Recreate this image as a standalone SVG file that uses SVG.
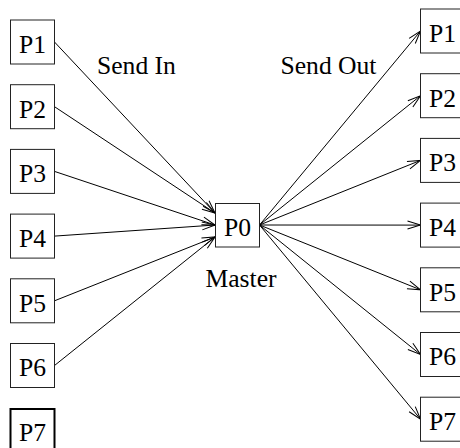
<svg xmlns="http://www.w3.org/2000/svg" width="460" height="448" viewBox="0 0 460 448">
  <defs>
    <marker id="arrow" markerUnits="userSpaceOnUse" markerWidth="20" markerHeight="12" refX="14" refY="5" orient="auto" overflow="visible">
      <path d="M1,1 L14,5 L1,9" fill="none" stroke="#000" stroke-width="1"/>
    </marker>
  </defs>
  <style>
    rect { fill: #fff; stroke: #222; stroke-width: 1; }
    rect.heavy { stroke: #000; stroke-width: 2; }
    text { font-family: "Liberation Serif", "Times New Roman", serif; font-size: 25.6px; fill: #000; }
    .lbl { text-anchor: middle; }
    #links line { stroke: #000; stroke-width: 1; marker-end: url(#arrow); }
  </style>
  <rect x="0" y="0" width="460" height="448" style="fill:#fff;stroke:none"/>

  <!-- gather: workers to master -->
  <g id="links">
    <line x1="54.5" y1="42" x2="215" y2="213"/>
    <line x1="54.5" y1="106.7" x2="215" y2="213"/>
    <line x1="54.5" y1="171.4" x2="215" y2="225"/>
    <line x1="54.5" y1="236.1" x2="215" y2="225"/>
    <line x1="54.5" y1="300.8" x2="215" y2="237"/>
    <line x1="54.5" y1="365.5" x2="215" y2="237"/>
    <!-- scatter: master to workers -->
    <line x1="259.5" y1="225" x2="420.5" y2="31"/>
    <line x1="259.5" y1="225" x2="420.5" y2="95.7"/>
    <line x1="259.5" y1="225" x2="420.5" y2="160.4"/>
    <line x1="259.5" y1="225" x2="420.5" y2="225.1"/>
    <line x1="259.5" y1="225" x2="420.5" y2="289.8"/>
    <line x1="259.5" y1="225" x2="420.5" y2="354.5"/>
    <line x1="259.5" y1="225" x2="420.5" y2="419.2"/>
  </g>

  <!-- senders -->
  <g id="in-p1"><rect x="10.5" y="20" width="44" height="44"/><text class="lbl" x="32.5" y="52.8">P1</text></g>
  <g id="in-p2"><rect x="10.5" y="84.7" width="44" height="44"/><text class="lbl" x="32.5" y="117.5">P2</text></g>
  <g id="in-p3"><rect x="10.5" y="149.4" width="44" height="44"/><text class="lbl" x="32.5" y="182.2">P3</text></g>
  <g id="in-p4"><rect x="10.5" y="214.1" width="44" height="44"/><text class="lbl" x="32.5" y="246.9">P4</text></g>
  <g id="in-p5"><rect x="10.5" y="278.8" width="44" height="44"/><text class="lbl" x="32.5" y="311.6">P5</text></g>
  <g id="in-p6"><rect x="10.5" y="343.5" width="44" height="44"/><text class="lbl" x="32.5" y="376.3">P6</text></g>
  <g id="in-p7"><rect class="heavy" x="10.5" y="409" width="44" height="44"/><text class="lbl" x="32.5" y="441.3">P7</text></g>

  <!-- master -->
  <g id="master"><rect x="215.5" y="203.5" width="44" height="43.5"/><text class="lbl" x="237.5" y="235.8">P0</text></g>

  <!-- receivers -->
  <g id="out-p1"><rect x="420.5" y="9" width="44" height="44"/><text class="lbl" x="442.5" y="41.8">P1</text></g>
  <g id="out-p2"><rect x="420.5" y="73.7" width="44" height="44"/><text class="lbl" x="442.5" y="106.5">P2</text></g>
  <g id="out-p3"><rect x="420.5" y="138.4" width="44" height="44"/><text class="lbl" x="442.5" y="171.2">P3</text></g>
  <g id="out-p4"><rect x="420.5" y="203.1" width="44" height="44"/><text class="lbl" x="442.5" y="235.9">P4</text></g>
  <g id="out-p5"><rect x="420.5" y="267.8" width="44" height="44"/><text class="lbl" x="442.5" y="300.6">P5</text></g>
  <g id="out-p6"><rect x="420.5" y="332.5" width="44" height="44"/><text class="lbl" x="442.5" y="365.3">P6</text></g>
  <g id="out-p7"><rect x="420.5" y="397.2" width="44" height="44"/><text class="lbl" x="442.5" y="430">P7</text></g>

  <!-- captions -->
  <text x="97" y="74">Send In</text>
  <text x="280.5" y="74">Send Out</text>
  <text x="205.5" y="287">Master</text>
</svg>
